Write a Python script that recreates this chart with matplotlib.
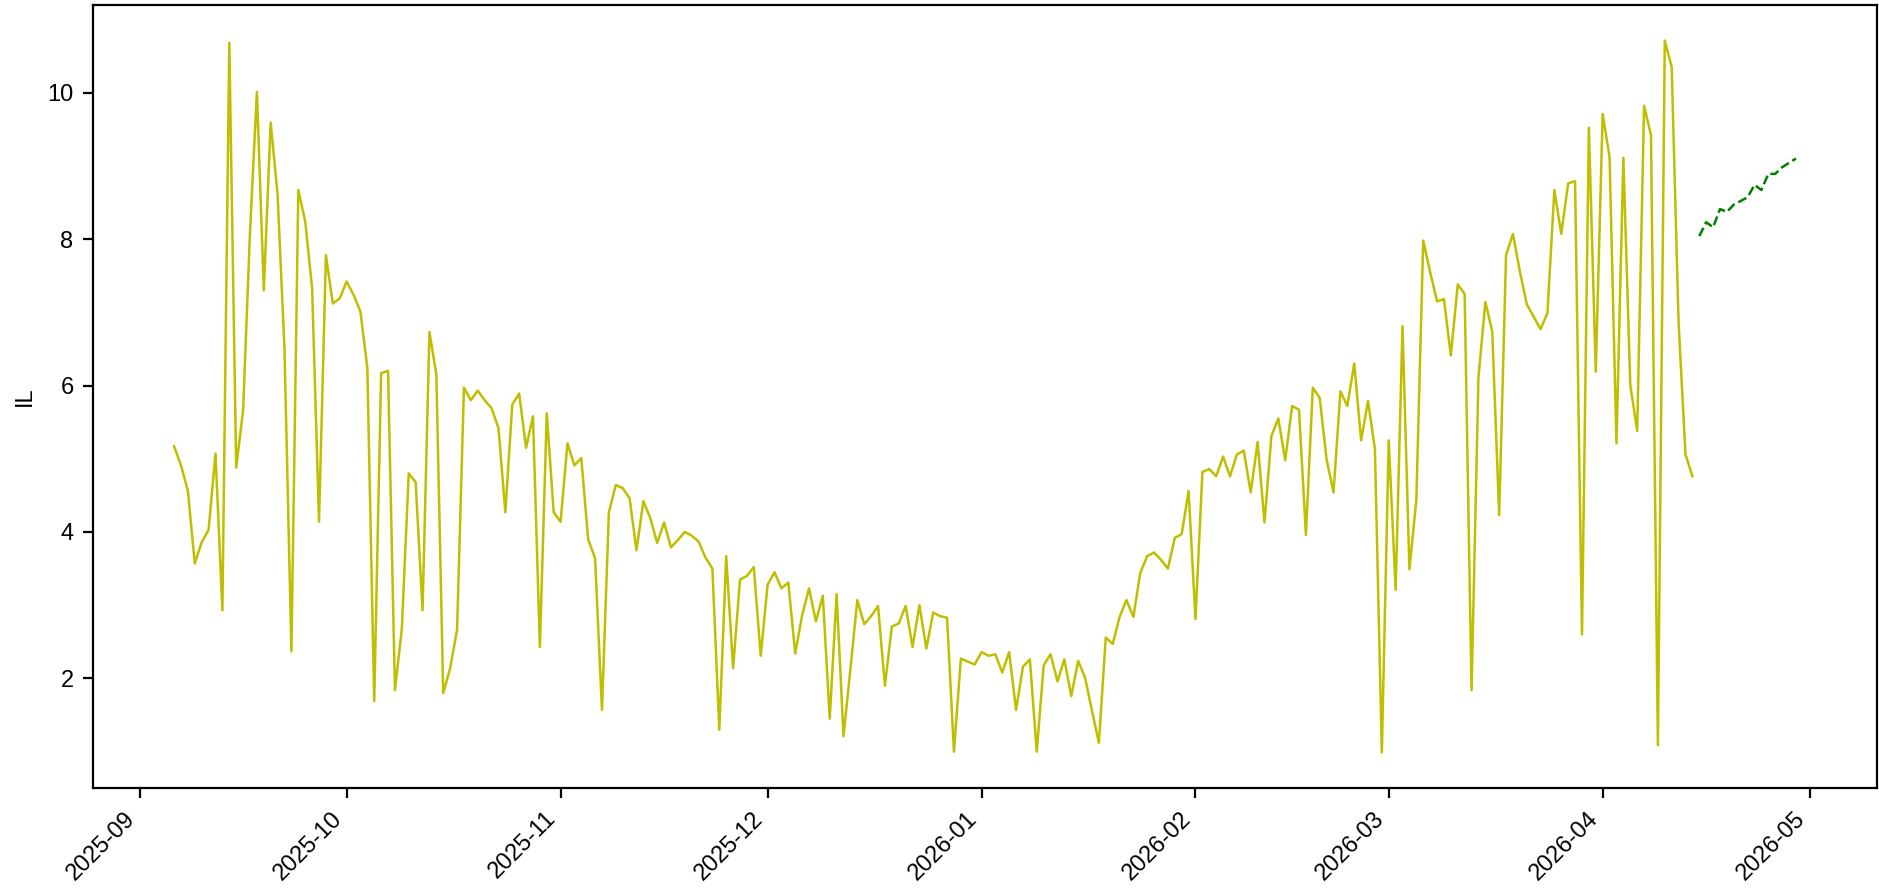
import matplotlib
matplotlib.use("Agg")
import matplotlib.pyplot as plt
import matplotlib.dates as mdates
import numpy as np
import pandas as pd

plt.rcParams['font.family'] = ['Liberation Sans', 'DejaVu Sans']
plt.rcParams['font.size'] = 8.5

dpi = 200

## data (daily values starting 2025-09-06)
start_date = "2025-09-06"
il_values = [
    5.17, 4.91, 4.56, 3.57, 3.86, 4.03, 5.07, 2.93, 10.68, 4.88,
    5.66, 8.10, 10.01, 7.30, 9.59, 8.60, 6.49, 2.37, 8.67, 8.24,
    7.33, 4.14, 7.78, 7.12, 7.19, 7.42, 7.24, 7.01, 6.24, 1.69,
    6.17, 6.20, 1.84, 2.68, 4.80, 4.68, 2.93, 6.73, 6.15, 1.80,
    2.14, 2.66, 5.97, 5.80, 5.93, 5.80, 5.69, 5.42, 4.27, 5.74,
    5.89, 5.15, 5.58, 2.43, 5.62, 4.27, 4.14, 5.21, 4.91, 5.01,
    3.90, 3.64, 1.57, 4.27, 4.64, 4.60, 4.46, 3.75, 4.42, 4.19,
    3.85, 4.13, 3.79, 3.89, 4.00, 3.95, 3.87, 3.65, 3.50, 1.30,
    3.67, 2.14, 3.35, 3.40, 3.52, 2.31, 3.28, 3.45, 3.23, 3.31,
    2.34, 2.86, 3.23, 2.78, 3.13, 1.45, 3.15, 1.21, 2.13, 3.07,
    2.74, 2.85, 2.99, 1.90, 2.71, 2.75, 2.99, 2.43, 3.00, 2.41,
    2.90, 2.85, 2.83, 1.00, 2.27, 2.23, 2.19, 2.36, 2.31, 2.33,
    2.08, 2.36, 1.57, 2.16, 2.26, 1.00, 2.18, 2.33, 1.96, 2.26,
    1.76, 2.24, 2.01, 1.56, 1.12, 2.56, 2.47, 2.84, 3.07, 2.84,
    3.44, 3.67, 3.72, 3.62, 3.50, 3.92, 3.97, 4.56, 2.81, 4.82,
    4.86, 4.76, 5.03, 4.76, 5.06, 5.11, 4.54, 5.23, 4.13, 5.31,
    5.55, 4.98, 5.72, 5.67, 3.96, 5.97, 5.83, 4.99, 4.54, 5.92,
    5.72, 6.30, 5.25, 5.79, 5.13, 0.99, 5.25, 3.21, 6.81, 3.49,
    4.44, 7.98, 7.55, 7.15, 7.18, 6.41, 7.38, 7.25, 1.84, 6.11,
    7.14, 6.74, 4.23, 7.78, 8.07, 7.56, 7.11, 6.94, 6.77, 6.99,
    8.67, 8.07, 8.76, 8.79, 2.60, 9.52, 6.19, 9.71, 9.12, 5.21,
    9.11, 6.01, 5.38, 9.82, 9.42, 1.09, 10.71, 10.35, 6.86, 5.06,
    4.76,
]

## forecast (daily values starting 2026-04-15)
fc_start_date = "2026-04-15"
fc_values = [8.04, 8.23, 8.16, 8.41, 8.37, 8.47, 8.52, 8.57,
             8.74, 8.67, 8.89, 8.89, 8.98, 9.04, 9.10]

dates = pd.date_range(start_date, periods=len(il_values), freq="D")
fc_dates = pd.date_range(fc_start_date, periods=len(fc_values), freq="D")

fig = plt.figure(figsize=(1879/dpi, 891/dpi), dpi=dpi)
ax = fig.add_axes([93/1879, 103/891, 1784/1879, 783/891])

ax.plot(dates, il_values, color="y", lw=0.9)
ax.plot(fc_dates, fc_values, color="g", ls="--", lw=0.9)

#axes
ax.set_ylabel("IL")
ax.xaxis.set_major_locator(mdates.MonthLocator())
ax.xaxis.set_major_formatter(mdates.DateFormatter("%Y-%m"))
for lab in ax.get_xticklabels():
    lab.set_rotation(45)
    lab.set_ha("right")

fig.savefig("out.png", dpi=dpi)
